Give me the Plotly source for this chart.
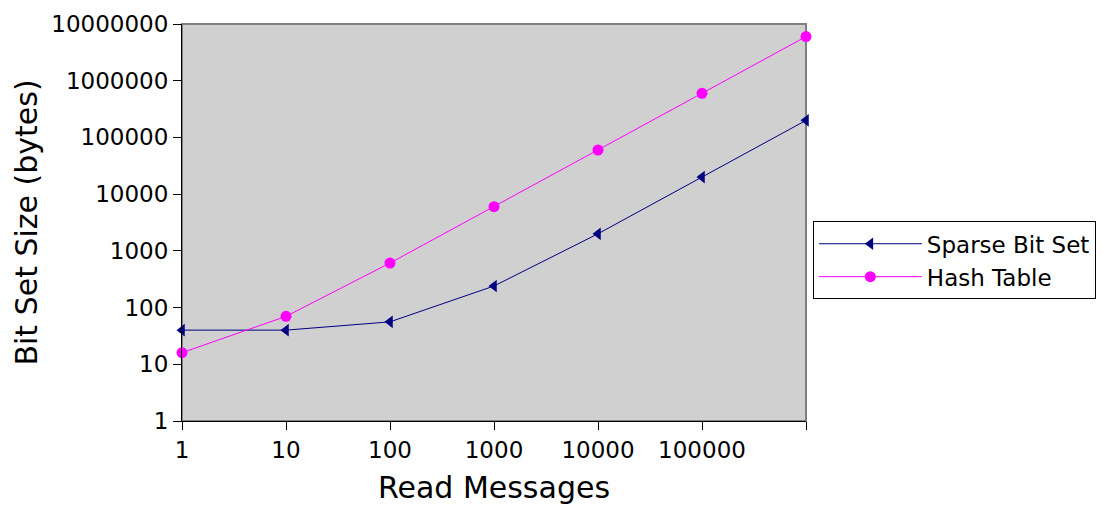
import plotly.graph_objects as go

# Number of read messages (x) and resulting bit set sizes in bytes (y)
read_messages = [1, 10, 100, 1000, 10000, 100000, 1000000]
sparse_bit_set = [40, 40, 56, 240, 2000, 20000, 200000]
hash_table = [16, 70, 610, 6010, 60010, 600010, 6000010]

x_tick_vals = [1, 10, 100, 1000, 10000, 100000, 1000000]
x_tick_text = ["1", "10", "100", "1000", "10000", "100000", ""]
y_tick_vals = [1, 10, 100, 1000, 10000, 100000, 1000000, 10000000]
y_tick_text = ["1", "10", "100", "1000", "10000", "100000", "1000000", "10000000"]

font_family = "DejaVu Sans"

fig = go.Figure()
fig.add_trace(go.Scatter(
    x=read_messages, y=sparse_bit_set, name="Sparse Bit Set",
    mode="lines+markers",
    line=dict(color="#000080", width=1),
    marker=dict(symbol="triangle-left", size=11, color="#000080"),
    cliponaxis=False,
))
fig.add_trace(go.Scatter(
    x=read_messages, y=hash_table, name="Hash Table",
    mode="lines+markers",
    line=dict(color="#ff00ff", width=1),
    marker=dict(symbol="circle", size=11, color="#ff00ff"),
    cliponaxis=False,
))

# grey frame around plotting area (top and right edges visible)
fig.add_shape(type="rect", xref="paper", yref="paper", x0=0, y0=0, x1=1, y1=1,
              line=dict(color="#808080", width=2), layer="below")

fig.update_layout(
    width=1102, height=509,
    margin=dict(l=182, r=296, t=24, b=88, autoexpand=False),
    paper_bgcolor="white",
    plot_bgcolor="#d0d0d0",
    font=dict(family=font_family, size=23, color="black"),
    showlegend=True,
    legend=dict(
        x=1.011, y=0.503, xanchor="left", yanchor="top",
        bgcolor="white", bordercolor="black", borderwidth=1,
        font=dict(family=font_family, size=23),
        itemwidth=103, tracegroupgap=0,
    ),
)
fig.update_xaxes(
    type="log", range=[0, 6], automargin=False,
    tickvals=x_tick_vals, ticktext=x_tick_text,
    ticks="outside", ticklen=8, tickcolor="black", tickwidth=1,
    showline=True, linecolor="black", linewidth=1,
    showgrid=False, zeroline=False,
    title=dict(text="Read Messages", font=dict(family=font_family, size=30), standoff=15),
    tickfont=dict(family=font_family, size=23),
)
fig.update_yaxes(
    type="log", range=[0, 7], automargin=False,
    tickvals=y_tick_vals, ticktext=y_tick_text,
    ticks="outside", ticklen=8, tickcolor="black", tickwidth=1,
    showline=True, linecolor="black", linewidth=1,
    showgrid=False, zeroline=False,
    title=dict(text="Bit Set Size (bytes)", font=dict(family=font_family, size=30), standoff=4),
    tickfont=dict(family=font_family, size=23),
)

fig.write_html("out.html")
